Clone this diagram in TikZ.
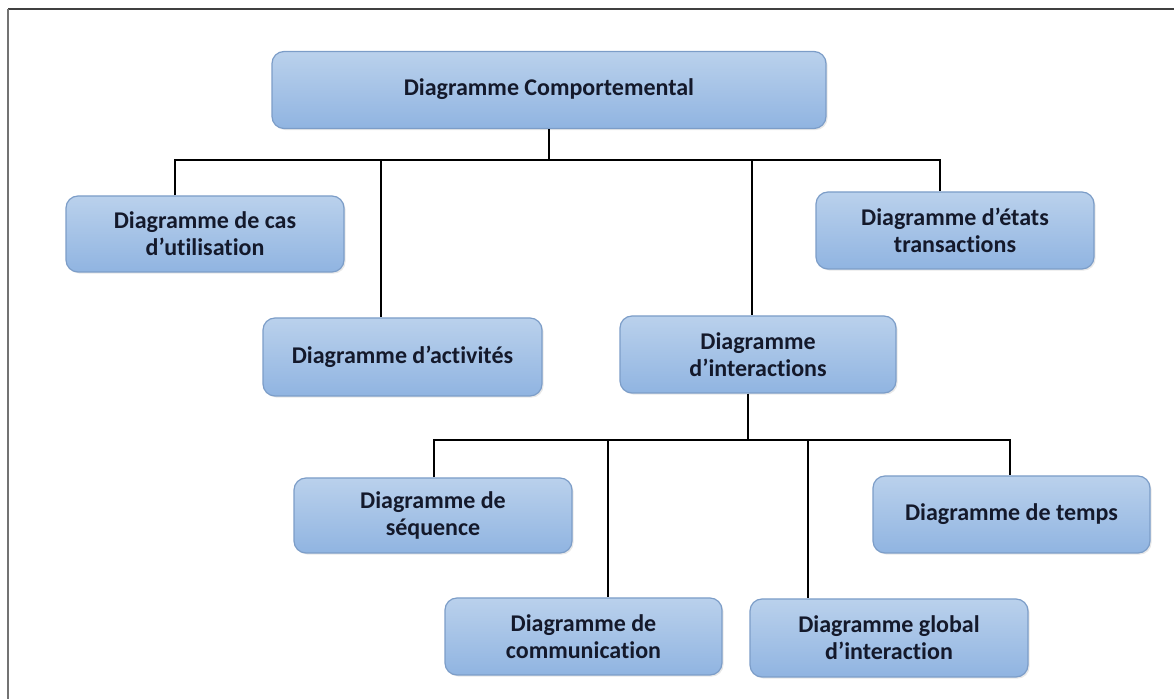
\documentclass[tikz,border=0pt]{standalone}
\usepackage{fontspec}
\setmainfont{Carlito}[Ligatures={NoCommon}]
\usetikzlibrary{shadows}
\definecolor{boxtop}{HTML}{BAD1EC}
\definecolor{boxbot}{HTML}{90B4E1}
\definecolor{boxline}{HTML}{7C9DC8}
\definecolor{txt}{HTML}{14192B}
\tikzset{
  umlbox/.style={draw=boxline, line width=0.6pt, rounded corners=6pt,
    top color=boxtop, bottom color=boxbot,
    drop shadow={opacity=0.18, shadow xshift=0.8pt, shadow yshift=-0.8pt},
    align=center, text=txt, inner sep=0pt,
    font=\fontsize{12}{13.5}\selectfont\bfseries},
  link/.style={line width=1.35pt, black, line join=miter}
}
\begin{document}
\begin{tikzpicture}[x=0.5pt, y=-0.5pt]
\useasboundingbox (0,0) rectangle (1174,699);
% page frame
\draw[line width=1.1pt, black!75] (8,9) -- (1174,9);
\draw[line width=1.1pt, black!55] (8,9) -- (8,699);

% boxes
\node[umlbox, minimum width=277pt, minimum height=38.5pt] (b0) at (549,90) {\raisebox{2.5pt}{Diagramme Comportemental}};
\node[umlbox, minimum width=139pt, minimum height=38pt] (b1) at (205,234) {Diagramme de cas\\d’utilisation};
\node[umlbox, minimum width=139.5pt, minimum height=39pt] (b2) at (402.5,357) {Diagramme d’activités};
\node[umlbox, minimum width=138pt, minimum height=38.5pt] (b3) at (758,354.5) {Diagramme\\d’interactions};
\node[umlbox, minimum width=139pt, minimum height=38.5pt] (b4) at (955,230.5) {Diagramme d’états\\transactions};
\node[umlbox, minimum width=139pt, minimum height=37.5pt] (b5) at (433,515.5) {Diagramme de\\séquence};
\node[umlbox, minimum width=138.5pt, minimum height=38.5pt] (b6) at (1011.5,514.5) {Diagramme de temps};
\node[umlbox, minimum width=138.5pt, minimum height=38.5pt] (b7) at (583.5,636.5) {Diagramme de\\communication};
\node[umlbox, minimum width=139pt, minimum height=39pt] (b8) at (889,638) {Diagramme global\\d’interaction};

% first level junctions
\coordinate (s0) at (549,160);
\coordinate (j1) at (175,160);
\coordinate (j2) at (381,160);
\coordinate (j3) at (752,160);
\coordinate (j4) at (940,160);
% second level junctions
\coordinate (s1) at (748,440);
\coordinate (k1) at (434,440);
\coordinate (k2) at (608,440);
\coordinate (k3) at (808,440);
\coordinate (k4) at (1010,440);

% first level tree
\draw[link] (b0.south) -- (s0);
\draw[link] (j1 |- b1.north) -- (j1) -- (j4) -- (j4 |- b4.north);
\draw[link] (j2) -- (j2 |- b2.north);
\draw[link] (j3) -- (j3 |- b3.north);
% second level tree
\draw[link] (s1 |- b3.south) -- (s1);
\draw[link] (k1 |- b5.north) -- (k1) -- (k4) -- (k4 |- b6.north);
\draw[link] (k2) -- (k2 |- b7.north);
\draw[link] (k3) -- (k3 |- b8.north);
\end{tikzpicture}
\end{document}
